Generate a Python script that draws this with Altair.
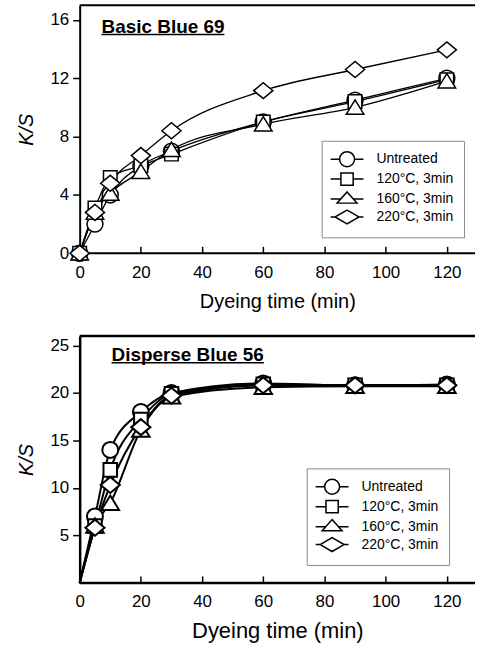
import altair as alt
import pandas as pd

FONT = "Liberation Sans"

# ---- data ----
time_min = [0, 5, 10, 20, 30, 60, 90, 120]
series = ["Untreated", "120°C, 3min", "160°C, 3min", "220°C, 3min"]

bb69_untreated = [0, 2.0, 4.0, 6.0, 7.0, 9.0, 10.5, 12.0]
bb69_120 = [0, 3.1, 5.2, 6.0, 6.8, 9.0, 10.4, 11.9]
bb69_160 = [0, 2.8, 4.1, 5.6, 7.1, 8.85, 10.0, 11.8]
bb69_220 = [0, 2.8, 4.8, 6.7, 8.4, 11.15, 12.6, 13.95]

db56_untreated = [0, 7.0, 14.0, 18.0, 20.0, 21.0, 20.8, 20.9]
db56_120 = [0, 6.0, 11.9, 17.2, 19.9, 20.9, 20.8, 20.8]
db56_160 = [0, 6.0, 8.4, 16.1, 19.6, 20.6, 20.7, 20.7]
db56_220 = [0, 5.8, 10.3, 16.4, 19.7, 20.8, 20.8, 20.8]

x_ticks = [0, 20, 40, 60, 80, 100, 120]
bb69_yticks = [0, 4, 8, 12, 16]
db56_yticks = [5, 10, 15, 20, 25]

X_MAX = 129.2

# ---- marker shapes ----
marker_paths = [
    "circle",
    "M-0.85,-0.85L0.85,-0.85L0.85,0.85L-0.85,0.85Z",
    "M0,-0.95L1.1,0.85L-1.1,0.85Z",
    "M-1.2,0L0,-1L1.2,0L0,1Z",
]
legend_paths = [
    "M-2.2,0L-1,0M1,0L2.2,0M-1,0A1,1,0,1,1,1,0A1,1,0,1,1,-1,0Z",
    "M-2.2,0L-0.82,0M0.82,0L2.2,0M-0.82,-0.82L0.82,-0.82L0.82,0.82L-0.82,0.82Z",
    "M-2.2,0L-0.84,0M0.84,0L2.2,0M0,-0.95L1.33,0.55L-1.33,0.55Z",
    "M-2.2,0L-1.6,0M1.6,0L2.2,0M-1.6,0L0,-0.93L1.6,0L0,0.93Z",
]


def long_df(lists):
    rows = []
    for name, vals in zip(series, lists):
        for t, v in zip(time_min, vals):
            rows.append({"time": t, "ks": v, "series": name})
    return pd.DataFrame(rows)


def panel(lists, ymax, yticks, height, label, lab_x, lab_y, ul_x2, ul_y,
          leg_x, leg_y, xtitle_size, line_w, pt_w, zero_points, frame_w):
    df = long_df(lists)
    x = alt.X(
        "time:Q",
        scale=alt.Scale(domain=[0, X_MAX], nice=False, zero=False),
        axis=alt.Axis(
            values=x_ticks, tickSize=7, offset=-7, domain=False, grid=False,
            labelFlush=False,
            tickColor="black", tickWidth=1.5, labelPadding=11, titlePadding=11,
            labelFontSize=17, labelColor="black", labelFont=FONT,
            title="Dyeing time (min)", titleFont=FONT, titleFontSize=xtitle_size,
            titleFontWeight="normal", titleColor="black",
        ),
    )
    y = alt.Y(
        "ks:Q",
        scale=alt.Scale(domain=[0, ymax], nice=False),
        axis=alt.Axis(
            values=yticks, tickSize=7, domain=True, domainColor="black",
            domainWidth=frame_w, grid=False, labelFlush=False,
            tickColor="black", tickWidth=1.5, labelPadding=4, titlePadding=13,
            labelFontSize=17, labelColor="black", labelFont=FONT,
            title="K/S", titleFont=FONT, titleFontSize=20, titleFontStyle="italic",
            titleFontWeight="normal", titleColor="black",
        ),
    )
    base = alt.Chart(df)
    lines = base.mark_line(
        color="black", strokeWidth=line_w, interpolate="monotone"
    ).encode(x=x, y=y, detail="series:N")
    pts_src = base if zero_points else base.transform_filter("datum.time > 0")
    points = pts_src.mark_point(
        filled=True, fill="white", stroke="black", strokeWidth=pt_w, size=256, opacity=1
    ).encode(
        x=x, y=y,
        shape=alt.Shape("series:N", sort=series,
                        scale=alt.Scale(domain=series, range=marker_paths), legend=None),
    )
    legend_layer = base.transform_filter("datum.time < 0").mark_point(
        filled=False, color="black", strokeWidth=1.5, opacity=1
    ).encode(
        x=x, y=y,
        shape=alt.Shape(
            "series:N", sort=series,
            scale=alt.Scale(domain=series, range=legend_paths),
            legend=alt.Legend(
                orient="none", legendX=leg_x, legendY=leg_y, title=None,
                strokeColor="#8a8a8a", fillColor="white", padding=10,
                labelFont=FONT, labelFontSize=14, labelColor="black",
                symbolSize=225, symbolStrokeWidth=1.5, symbolOffset=7,
                labelOffset=21, rowPadding=0, symbolOpacity=1,
                symbolStrokeColor="black",
            ),
        ),
    )
    one = pd.DataFrame({"a": [0]})
    frame_bottom = alt.Chart(one).mark_rule(color="black", strokeWidth=frame_w).encode(
        x=alt.datum(0), x2=alt.datum(X_MAX), y=alt.datum(0)
    )
    frame_top = alt.Chart(one).mark_rule(color="black", strokeWidth=frame_w).encode(
        x=alt.datum(0), x2=alt.datum(X_MAX), y=alt.datum(ymax)
    )
    text = alt.Chart(one).mark_text(
        text=label, align="left", baseline="alphabetic", font=FONT,
        fontWeight="bold", fontSize=19, color="black",
    ).encode(x=alt.datum(lab_x), y=alt.datum(lab_y))
    underline = alt.Chart(one).mark_rule(color="black", strokeWidth=1.5).encode(
        x=alt.datum(lab_x), x2=alt.datum(ul_x2), y=alt.datum(ul_y)
    )
    return (
        alt.layer(frame_bottom, frame_top, lines, points, legend_layer, text, underline)
        .resolve_scale(shape="independent")
        .properties(width=397, height=height,
                    view=alt.ViewBackground(stroke="transparent"))
    )


top = panel([bb69_untreated, bb69_120, bb69_160, bb69_220], 17, bb69_yticks, 249,
            "Basic Blue 69", 7.15, 15.11, 47.3, 15.0, 243, 136, 20, 1.3, 1.5, True, 2)
bottom = panel([db56_untreated, db56_120, db56_160, db56_220], 26, db56_yticks, 248,
               "Disperse Blue 56", 10.4, 23.4, 60.2, 23.17, 228, 133, 22, 2.0, 2.0, False, 2.5)

chart = (
    alt.vconcat(top, bottom, spacing=22)
    .properties(padding={"left": 16, "top": 2, "right": 0, "bottom": 0}, background="white")
    .configure(font=FONT)
)

chart.save("out.html", embed_options={"renderer": "svg", "actions": False})
